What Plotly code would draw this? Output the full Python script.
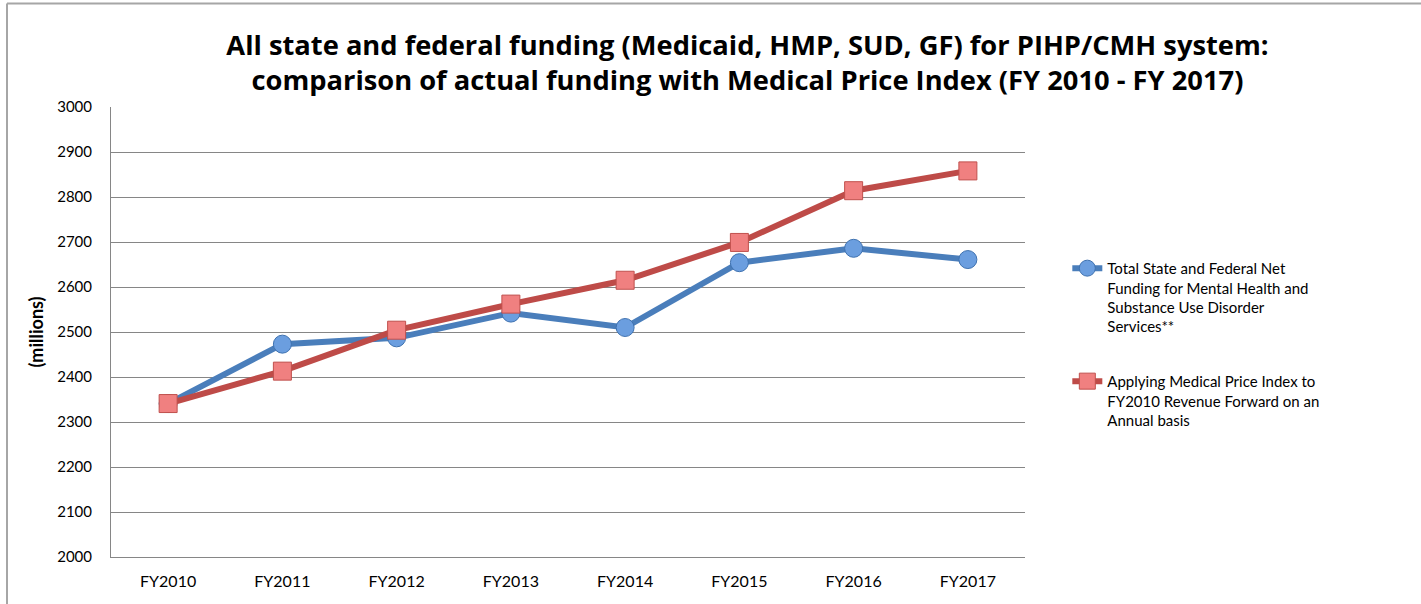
import plotly.graph_objects as go

categories = ["FY2010", "FY2011", "FY2012", "FY2013", "FY2014", "FY2015", "FY2016", "FY2017"]
actual_funding = [2341, 2473, 2487, 2542, 2510, 2654, 2686, 2661]
price_index = [2341, 2413, 2504, 2562, 2615, 2699, 2814, 2858]
y_ticks = [2000, 2100, 2200, 2300, 2400, 2500, 2600, 2700, 2800, 2900, 3000]

name_actual = "Total State and Federal Net<br>Funding for Mental Health and<br>Substance Use Disorder<br>Services**"
name_index = "Applying Medical Price Index to<br>FY2010 Revenue Forward on an<br>Annual basis"

FONT = "Lato, 'Open Sans', sans-serif"
TITLE_FONT = "'Open Sans', Lato, sans-serif"

fig = go.Figure()
fig.add_trace(go.Scatter(
    x=categories, y=actual_funding, name=name_actual, mode="lines+markers",
    line=dict(color="#4A7EBB", width=6),
    marker=dict(symbol="circle", size=18, color="#6B9EDF", line=dict(color="#3F72B0", width=1)),
    legendgroup="a",
))
fig.add_trace(go.Scatter(
    x=categories, y=price_index, name=name_index, mode="lines+markers",
    line=dict(color="#BE4B48", width=6),
    marker=dict(symbol="square", size=18, color="#F08080", line=dict(color="#C0504D", width=1)),
    legendgroup="b",
))

fig.update_layout(
    width=1421, height=604,
    paper_bgcolor="white", plot_bgcolor="white",
    margin=dict(l=111, r=396, t=107, b=47),
    font=dict(family=FONT, size=14, color="black"),
    title=dict(
        text="<b>All state and federal funding (Medicaid, HMP, SUD, GF) for PIHP/CMH system:<br>comparison of actual funding with Medical Price Index (FY 2010 - FY 2017)</b>",
        x=0.526, xanchor="center", xref="container",
        y=1 - 54.5 / 604, yanchor="middle", yref="container",
        font=dict(family=TITLE_FONT, size=27.3, color="black"),
    ),
    showlegend=True,
    legend=dict(
        x=1.0463, xanchor="left", y=0.678, yanchor="top",
        valign="top", tracegroupgap=32,
        font=dict(family=FONT, size=15, color="black"),
        bgcolor="rgba(0,0,0,0)",
    ),
    xaxis=dict(
        type="category", range=[-0.5, 7.5],
        showgrid=False, showline=True, linecolor="#868686", linewidth=1,
        ticks="outside", ticklen=10, tickcolor="rgba(0,0,0,0)",
        tickfont=dict(family=FONT, size=16), mirror=False, zeroline=False,
    ),
    yaxis=dict(
        range=[2000, 3000], tickvals=y_ticks,
        showgrid=True, gridcolor="#868686", gridwidth=1,
        showline=True, linecolor="#868686", linewidth=1,
        ticks="outside", ticklen=15, tickcolor="rgba(0,0,0,0)",
        tickfont=dict(family=FONT, size=15), zeroline=False,
        title=dict(text="<b>(millions)</b>", font=dict(family=FONT, size=18), standoff=8),
    ),
    shapes=[
        dict(type="line", xref="paper", yref="paper", x0=(7 - 111) / 914, x1=(1421 - 111) / 914,
             y0=(557 - 3.5) / 450, y1=(557 - 3.5) / 450, line=dict(color="#A6A6A6", width=2)),
        dict(type="line", xref="paper", yref="paper", x0=(7 - 111) / 914, x1=(7 - 111) / 914,
             y0=(557 - 3.5) / 450, y1=(557 - 604) / 450, line=dict(color="#A6A6A6", width=2)),
    ],
)

fig.write_html(
    "out.html",
    config={"displayModeBar": False},
    post_script="document.body.style.margin='0';document.body.style.overflow='hidden';",
)
